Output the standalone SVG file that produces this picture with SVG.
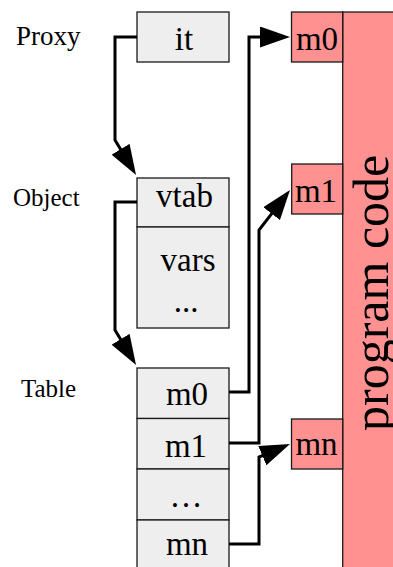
<svg xmlns="http://www.w3.org/2000/svg" width="393" height="567" viewBox="0 0 393 567">
<style>
.lbl{font-family:"Liberation Serif","Times New Roman",serif;fill:#000}
.cell{fill:#eeeeee;stroke:#1a1a1a;stroke-width:1.3}
.pink{fill:#ff9191;stroke:#1a1a1a;stroke-width:1.3}
.box{font-family:"Liberation Serif","Times New Roman",serif;font-size:33px;text-anchor:middle;fill:#000}
.conn{fill:none;stroke:#000;stroke-width:3;stroke-linejoin:miter;marker-end:url(#ah)}
</style>
<defs>
<marker id="ah" markerUnits="userSpaceOnUse" markerWidth="30" markerHeight="21" viewBox="0 0 30 21" refX="22" refY="10.5" orient="auto">
<path d="M0,0 L30,10.5 L0,21 Z" fill="#000"/>
</marker>
</defs>
<rect width="393" height="567" fill="#fff"/>

<g id="program-code">
<rect class="pink" x="342.7" y="12" width="60" height="570"/>
<text class="lbl" font-size="50" transform="translate(388,431) rotate(-90)">program code</text>
</g>

<g id="proxy">
<text class="lbl" x="16" y="45" font-size="27">Proxy</text>
<rect class="cell" x="137" y="12" width="92" height="50"/>
<text class="box" x="184" y="50">it</text>
</g>

<g id="object">
<text class="lbl" x="13" y="206" font-size="25">Object</text>
<rect class="cell" x="137" y="178" width="92" height="49"/>
<text class="box" x="184.5" y="207">vtab</text>
<rect class="cell" x="137" y="227" width="92" height="101"/>
<text class="box" x="188" y="271">vars</text>
<text class="box" x="186" y="312">...</text>
</g>

<g id="table">
<text class="lbl" x="21" y="397" font-size="25">Table</text>
<rect class="cell" x="137" y="368" width="92" height="50.5"/>
<text class="box" x="187" y="405">m0</text>
<rect class="cell" x="137" y="418.5" width="92" height="50.5"/>
<text class="box" x="186" y="457">m1</text>
<rect class="cell" x="137" y="469" width="92" height="51"/>
<text class="box" x="186" y="507">…</text>
<rect class="cell" x="137" y="520" width="92" height="60"/>
<text class="box" x="187" y="555">mn</text>
</g>

<g id="code-m0">
<rect class="pink" x="291.5" y="12" width="51.2" height="50"/>
<text class="box" x="317" y="50">m0</text>
</g>
<g id="code-m1">
<rect class="pink" x="291.7" y="164" width="51" height="50"/>
<text class="box" x="316" y="202">m1</text>
</g>
<g id="code-mn">
<rect class="pink" x="291.5" y="419" width="51.2" height="50"/>
<text class="box" x="316.5" y="455">mn</text>
</g>

<g id="connectors">
<polyline class="conn" points="137,37 115,37 115,140 131.9,168.1"/>
<polyline class="conn" points="137,202 115,202 115,330 131.9,358.1"/>
<polyline class="conn" points="229,392 249,392 249,37 282,37"/>
<polyline class="conn" points="229,443 259,443 259,230 285.1,196.3"/>
<polyline class="conn" points="229,544 259,544 259,457 282.6,447.1"/>
</g>
</svg>
